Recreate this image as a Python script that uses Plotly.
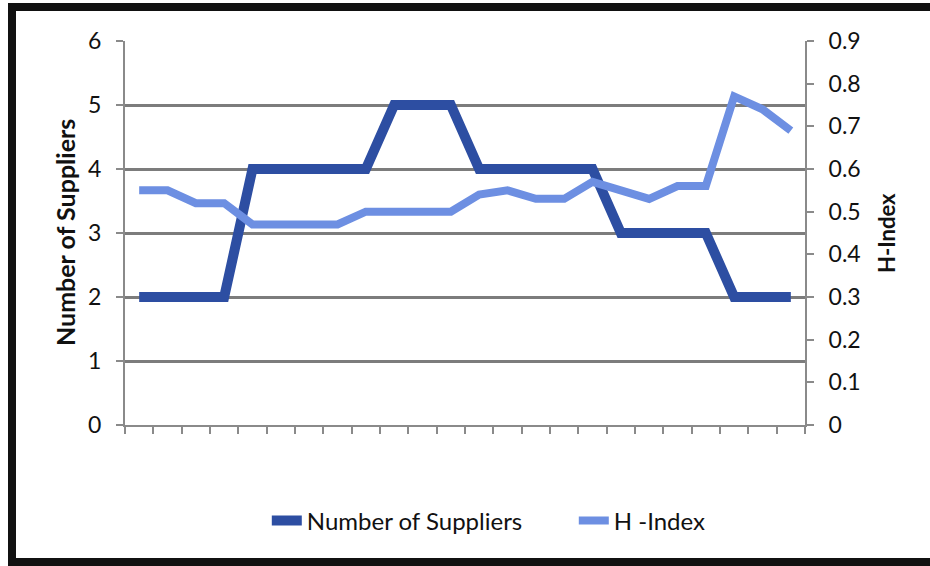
import plotly.graph_objects as go

# Period index (24 observations, unlabeled on the chart)
periods = [str(i) for i in range(1, 25)]

# Number of suppliers per period (left axis)
num_suppliers = [2, 2, 2, 2, 4, 4, 4, 4, 4, 5, 5, 5,
                 4, 4, 4, 4, 4, 3, 3, 3, 3, 2, 2, 2]

# Herfindahl index per period (right axis)
h_index = [0.55, 0.55, 0.52, 0.52, 0.47, 0.47, 0.47, 0.47, 0.50, 0.50, 0.50, 0.50,
           0.54, 0.55, 0.53, 0.53, 0.57, 0.55, 0.53, 0.56, 0.56, 0.77, 0.74, 0.69]

left_ticks = [0, 1, 2, 3, 4, 5, 6]
right_ticks = [0, 0.1, 0.2, 0.3, 0.4, 0.5, 0.6, 0.7, 0.8, 0.9]

FONT = "Lato, 'Open Sans', sans-serif"
TEXT = "#111111"
DARK = "#2d4ea2"
LIGHT = "#6d8fe2"
GRID = "#7c7c7c"
AXIS = "#8a8a8a"

PLOT_L, PLOT_R, PLOT_T, PLOT_B = 125, 805, 41, 425
PW, PH = PLOT_R - PLOT_L, PLOT_B - PLOT_T


def px_x(x):
    return (x - PLOT_L) / PW


def px_y(y):
    return (PLOT_B - y) / PH


fig = go.Figure()
fig.add_trace(go.Scatter(
    x=periods, y=num_suppliers, name="Number of Suppliers",
    mode="lines", line=dict(color=DARK, width=10), yaxis="y",
))
fig.add_trace(go.Scatter(
    x=periods, y=h_index, name="H -Index",
    mode="lines", line=dict(color=LIGHT, width=8), yaxis="y2",
))

fig.update_layout(
    width=930, height=566,
    margin=dict(l=PLOT_L, r=930 - PLOT_R, t=PLOT_T, b=566 - PLOT_B),
    paper_bgcolor="white", plot_bgcolor="white",
    font=dict(family=FONT, size=22, color=TEXT),
    showlegend=True,
    legend=dict(
        orientation="h", x=0.66, xanchor="center", y=px_y(521), yanchor="middle",
        entrywidth=262, itemwidth=30,
        font=dict(size=24, color=TEXT), bgcolor="rgba(0,0,0,0)",
    ),
    xaxis=dict(
        type="category", range=[-0.5, len(periods) - 0.5],
        showticklabels=False, tickson="boundaries",
        ticks="outside", ticklen=7, tickwidth=2, tickcolor=AXIS,
        showline=True, linecolor=AXIS, linewidth=2, showgrid=False,
        zeroline=False,
    ),
    yaxis=dict(
        range=[0, 6], tickvals=left_ticks, showgrid=True,
        gridcolor=GRID, gridwidth=2.5, zeroline=False,
        showline=True, linecolor=AXIS, linewidth=2,
        ticks="outside", ticklen=7, tickwidth=2, tickcolor=AXIS,
        ticklabelstandoff=10,
        tickfont=dict(size=23, color=TEXT),
    ),
    yaxis2=dict(
        range=[0, 0.9], tickvals=right_ticks, overlaying="y", side="right",
        showgrid=False, zeroline=False,
        showline=True, linecolor=AXIS, linewidth=2,
        ticks="outside", ticklen=7, tickwidth=2, tickcolor=AXIS,
        ticklabelstandoff=10,
        tickfont=dict(size=23, color=TEXT),
    ),
    annotations=[
        dict(text="<b>Number of Suppliers</b>", xref="paper", yref="paper",
             x=px_x(65), y=0.5, textangle=-90, showarrow=False,
             xanchor="center", yanchor="middle",
             font=dict(size=25, color=TEXT)),
        dict(text="<b>H-Index</b>", xref="paper", yref="paper",
             x=px_x(886), y=0.5, textangle=-90, showarrow=False,
             xanchor="center", yanchor="middle",
             font=dict(size=22, color=TEXT)),
    ],
    shapes=[dict(
        type="rect", xref="paper", yref="paper",
        x0=px_x(12), x1=px_x(945),
        y0=px_y(562), y1=px_y(7),
        line=dict(color="#111111", width=8), fillcolor="rgba(0,0,0,0)",
        layer="above",
    )],
)

fig.write_html("out.html")
